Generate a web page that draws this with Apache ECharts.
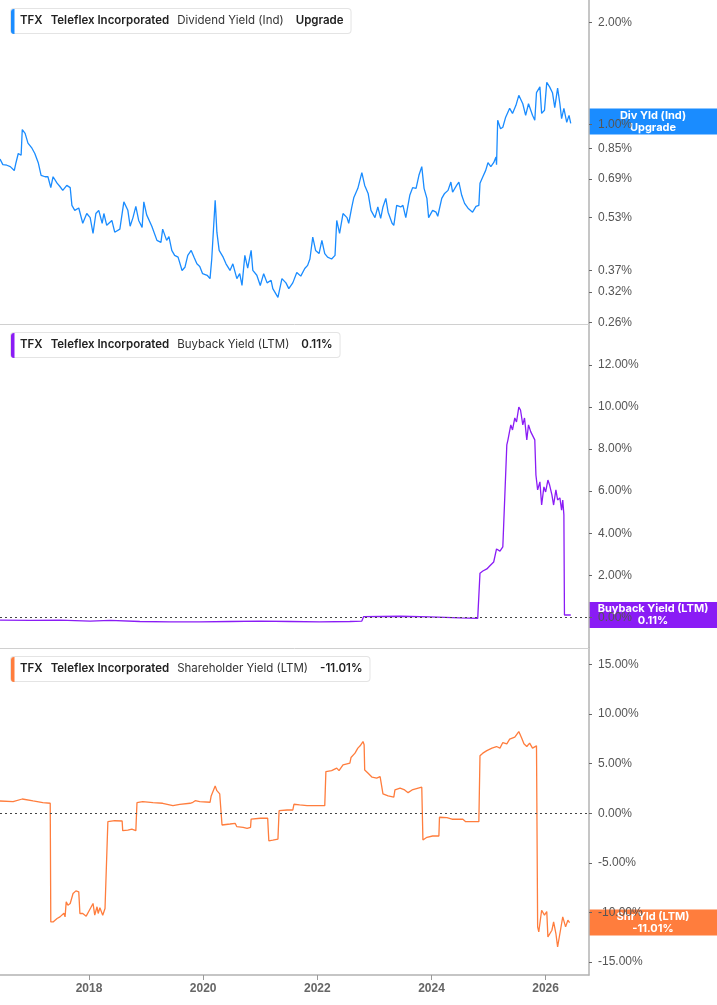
<!DOCTYPE html>
<html>
<head>
<meta charset="utf-8">
<title>TFX - Teleflex Incorporated yields</title>
<script src="https://cdn.jsdelivr.net/npm/echarts@6/dist/echarts.min.js"></script>
<style>
  html, body { margin: 0; padding: 0; background: #fff; }
  #chart { width: 717px; height: 1005px; }
</style>
</head>
<body>
<div id="chart"></div>
<script>
// ---- data (x = decimal year, y = %) ----
const divYears = [2016.44,2016.49,2016.56,2016.62,2016.69,2016.72,2016.76,2016.81,2016.83,2016.88,2016.93,2017.00,2017.05,2017.11,2017.16,2017.23,2017.28,2017.33,2017.37,2017.44,2017.49,2017.54,2017.61,2017.67,2017.70,2017.75,2017.82,2017.89,2017.96,2018.02,2018.07,2018.12,2018.17,2018.23,2018.26,2018.31,2018.40,2018.45,2018.54,2018.61,2018.68,2018.72,2018.77,2018.82,2018.87,2018.93,2018.96,2019.01,2019.10,2019.19,2019.26,2019.29,2019.36,2019.40,2019.45,2019.50,2019.56,2019.63,2019.68,2019.73,2019.79,2019.84,2019.89,2019.94,2019.99,2020.07,2020.12,2020.15,2020.21,2020.22,2020.24,2020.28,2020.35,2020.40,2020.47,2020.52,2020.59,2020.64,2020.68,2020.73,2020.78,2020.84,2020.87,2020.94,2021.00,2021.06,2021.12,2021.19,2021.22,2021.31,2021.38,2021.45,2021.50,2021.57,2021.64,2021.71,2021.78,2021.83,2021.87,2021.92,2021.97,2022.03,2022.08,2022.13,2022.18,2022.25,2022.31,2022.34,2022.39,2022.45,2022.52,2022.55,2022.60,2022.64,2022.71,2022.78,2022.83,2022.89,2022.94,2023.01,2023.06,2023.11,2023.15,2023.20,2023.24,2023.31,2023.34,2023.39,2023.46,2023.50,2023.55,2023.62,2023.67,2023.73,2023.78,2023.83,2023.87,2023.92,2023.95,2024.02,2024.08,2024.11,2024.18,2024.23,2024.29,2024.34,2024.37,2024.44,2024.48,2024.53,2024.58,2024.64,2024.72,2024.78,2024.83,2024.85,2024.90,2024.95,2024.99,2025.04,2025.09,2025.13,2025.14,2025.16,2025.21,2025.25,2025.30,2025.37,2025.42,2025.48,2025.53,2025.60,2025.65,2025.70,2025.77,2025.81,2025.84,2025.90,2025.93,2025.98,2026.02,2026.07,2026.12,2026.16,2026.21,2026.25,2026.28,2026.32,2026.37,2026.41,2026.44]
const divYield = [0.79,0.76,0.757,0.75,0.73,0.77,0.82,0.81,0.965,0.94,0.88,0.85,0.82,0.77,0.707,0.70,0.70,0.65,0.70,0.67,0.655,0.638,0.66,0.65,0.576,0.557,0.566,0.51,0.545,0.53,0.476,0.545,0.557,0.51,0.545,0.503,0.52,0.48,0.49,0.59,0.557,0.50,0.53,0.572,0.52,0.496,0.59,0.54,0.50,0.454,0.448,0.49,0.454,0.466,0.424,0.41,0.405,0.37,0.378,0.41,0.424,0.405,0.387,0.38,0.362,0.358,0.35,0.40,0.596,0.557,0.48,0.424,0.405,0.387,0.37,0.387,0.35,0.362,0.334,0.41,0.376,0.424,0.37,0.358,0.334,0.362,0.34,0.346,0.327,0.308,0.35,0.34,0.327,0.34,0.365,0.356,0.375,0.383,0.40,0.464,0.424,0.415,0.454,0.415,0.405,0.40,0.41,0.52,0.476,0.545,0.53,0.51,0.565,0.608,0.647,0.72,0.66,0.625,0.557,0.53,0.57,0.527,0.57,0.604,0.55,0.51,0.503,0.576,0.57,0.576,0.53,0.617,0.65,0.647,0.707,0.75,0.647,0.604,0.53,0.557,0.55,0.535,0.604,0.625,0.638,0.675,0.63,0.66,0.675,0.617,0.584,0.565,0.55,0.572,0.576,0.67,0.70,0.731,0.77,0.75,0.77,0.80,0.76,1.028,0.97,0.98,1.05,1.115,1.077,1.138,1.218,1.15,1.063,1.15,1.063,1.028,1.24,1.29,1.077,1.10,1.33,1.29,1.24,1.12,1.28,1.15,1.04,1.115,1.014,1.063,1.007]

const bbYears = [2016.44,2016.97,2017.49,2018.02,2018.37,2018.89,2019.42,2019.94,2020.47,2021.00,2021.52,2022.04,2022.57,2022.78,2022.81,2023.45,2023.97,2024.50,2024.81,2024.85,2024.90,2024.97,2025.02,2025.09,2025.14,2025.20,2025.25,2025.28,2025.32,2025.34,2025.39,2025.42,2025.46,2025.49,2025.53,2025.56,2025.60,2025.63,2025.67,2025.70,2025.74,2025.77,2025.81,2025.83,2025.86,2025.90,2025.93,2025.97,2026.00,2026.04,2026.07,2026.11,2026.14,2026.18,2026.21,2026.25,2026.28,2026.30,2026.32,2026.33,2026.44]
const bbYield = [-0.13,-0.15,-0.13,-0.18,-0.15,-0.2,-0.22,-0.22,-0.2,-0.18,-0.2,-0.22,-0.2,-0.18,0.03,0.05,0.02,-0.03,-0.05,2.1,2.2,2.3,2.44,2.63,3.25,3.15,3.35,3.39,8.2,8.44,9.15,8.91,9.48,9.29,10.0,9.86,9.15,9.48,8.44,9.15,8.82,8.91,8.44,6.77,6.06,6.44,5.34,6.2,5.96,6.53,6.29,5.82,5.34,6.06,5.58,5.68,5.1,5.58,4.87,0.11,0.11]

const shYears = [2016.44,2016.67,2016.83,2017.02,2017.19,2017.32,2017.33,2017.37,2017.44,2017.49,2017.56,2017.58,2017.60,2017.63,2017.67,2017.72,2017.77,2017.82,2017.84,2017.89,2017.95,2017.98,2018.03,2018.07,2018.10,2018.14,2018.16,2018.19,2018.24,2018.28,2018.31,2018.33,2018.45,2018.58,2018.59,2018.68,2018.75,2018.82,2018.84,2018.94,2019.12,2019.29,2019.47,2019.59,2019.77,2019.82,2019.86,2019.94,2020.12,2020.14,2020.17,2020.21,2020.24,2020.29,2020.33,2020.47,2020.56,2020.59,2020.70,2020.77,2020.83,2020.84,2021.00,2021.13,2021.15,2021.22,2021.31,2021.33,2021.47,2021.57,2021.59,2021.69,2021.82,2021.92,2022.13,2022.15,2022.25,2022.34,2022.38,2022.45,2022.52,2022.57,2022.59,2022.62,2022.66,2022.71,2022.75,2022.80,2022.82,2022.83,2022.89,2022.96,2023.04,2023.10,2023.13,2023.15,2023.24,2023.34,2023.36,2023.45,2023.53,2023.59,2023.66,2023.83,2023.85,2023.92,2024.02,2024.13,2024.14,2024.27,2024.36,2024.55,2024.60,2024.83,2024.85,2024.90,2024.97,2025.06,2025.14,2025.20,2025.25,2025.32,2025.37,2025.46,2025.53,2025.58,2025.62,2025.67,2025.72,2025.77,2025.84,2025.86,2025.88,2025.93,2025.98,2026.02,2026.04,2026.11,2026.14,2026.18,2026.21,2026.26,2026.30,2026.35,2026.39,2026.42]
const shYield = [1.24,1.17,1.44,1.24,1.07,1.01,-10.95,-10.95,-10.6,-10.44,-10.07,-10.44,-8.93,-9.26,-9.09,-8.08,-7.82,-7.92,-10.1,-10.1,-10.37,-10.27,-9.52,-9.09,-10.27,-9.42,-10.1,-9.52,-10.27,-9.6,-9.42,-0.85,-0.75,-0.78,-1.75,-1.69,-1.59,-1.75,1.07,1.17,1.07,1.01,0.77,0.9,1.01,1.11,1.27,1.17,1.11,1.75,1.85,2.76,2.28,1.95,-1.18,-1.08,-1.01,-1.35,-1.41,-1.52,-1.41,-0.58,-0.5,-0.5,-2.77,-2.7,-2.6,0.26,0.33,0.33,0.91,0.84,0.77,0.77,0.77,4.2,4.3,4.55,4.3,4.88,4.98,5.05,5.62,5.46,6.06,6.57,6.8,7.23,6.9,4.37,4.04,3.64,3.54,3.7,3.54,1.95,1.75,1.62,2.35,2.53,2.35,2.08,2.35,2.63,-2.7,-2.42,-2.29,-2.29,-0.4,-0.44,-0.6,-0.6,-0.85,-0.85,5.79,6.06,6.32,6.57,6.73,6.57,7.13,7.0,7.47,7.68,8.24,7.58,7.0,6.73,7.07,6.57,6.8,-11.45,-11.96,-9.77,-10.27,-9.9,-12.46,-11.79,-10.95,-12.12,-13.47,-11.79,-10.44,-11.45,-10.78,-11.01]

// tick labels
const yearTicks = [2018, 2020, 2022, 2024, 2026]
const divTicks = [0.26, 0.32, 0.37, 0.53, 0.69, 0.85, 1.00, 2.00]
const bbTicks = [0, 2, 4, 6, 8, 10, 12]
const shTicks = [-15, -10, -5, 0, 5, 10, 15]

// legend / badge text
const ticker = 'TFX'
const company = 'Teleflex Incorporated'
const legends = [
  { metric: 'Dividend Yield (Ind)', value: 'Upgrade' },
  { metric: 'Buyback Yield (LTM)', value: '0.11%' },
  { metric: 'Shareholder Yield (LTM)', value: '-11.01%' }
]
const badges = [
  ['Div Yld (Ind)', 'Upgrade'],
  ['Buyback Yield (LTM)', '0.11%'],
  ['Shr Yld (LTM)', '-11.01%']
]
const badgeValues = [1.02, 0.11, -11.01]

// ---- layout / style ----
const colors = ['#1a8cff', '#8a1cf5', '#ff7d3d']
const AXIS_X = 589
const CHART_W = 717
const panels = [
  { top: 0, height: 324 },
  { top: 324, height: 324 },
  { top: 648, height: 327 }
]
const X_MIN = 2016.44
const X_MAX = 2026.76
const labelFont = '"Liberation Sans", Arial, sans-serif'
const legendFont = 'Inter, "Noto Sans", sans-serif'

const pairs = (xs, ys) => xs.map((x, i) => [x, ys[i]])
const pct = v => v.toFixed(2) + '%'

const chart = echarts.init(document.getElementById('chart'))

const makeYAxis = (i, extra) => Object.assign({
  gridIndex: i,
  position: 'right',
  axisLine: { show: true, lineStyle: { color: '#b3b3b3', width: 1.5 } },
  splitLine: { show: false }
}, extra)

const makeXAxis = (i, last) => ({
  type: 'value',
  gridIndex: i,
  min: X_MIN,
  max: X_MAX,
  axisLine: { show: true, onZero: false, lineStyle: { color: last ? '#b3b3b3' : '#d0d0d0', width: last ? 1.5 : 1 } },
  axisTick: last ? { show: true, length: 5, customValues: yearTicks, lineStyle: { color: '#999' } } : { show: false },
  axisLabel: last ? {
    show: true, customValues: yearTicks, formatter: v => String(v),
    color: '#666', fontWeight: 'bold', fontSize: 12, fontFamily: labelFont, margin: 8
  } : { show: false },
  splitLine: { show: false }
})

const yLabel = ticks => ({ color: '#555', fontSize: 12, fontFamily: labelFont, margin: 9, formatter: pct, customValues: ticks })
const yTick = ticks => ({ show: true, length: 3, customValues: ticks, lineStyle: { color: '#666' } })

const zeroLine = {
  silent: true,
  symbol: 'none',
  label: { show: false },
  lineStyle: { type: [2, 3], color: '#444', width: 1 },
  data: [{ yAxis: 0 }]
}

const lineSeries = (i, data, withZero) => ({
  type: 'line',
  xAxisIndex: i,
  yAxisIndex: i,
  data,
  showSymbol: false,
  symbol: 'none',
  lineStyle: { color: colors[i], width: 1.3 },
  itemStyle: { color: colors[i] },
  markLine: withZero ? zeroLine : undefined,
  z: 3
})

// legend boxes top-left of each panel
const legendGraphics = legends.map((lg, i) => ({
  type: 'group',
  left: 10,
  top: panels[i].top + 8,
  children: [
    {
      type: 'text',
      x: 0, y: 0,
      style: {
        text: `{b|${ticker}}{g|}{b|${company}}{g|}{n|${lg.metric}}{g2|}{b|${lg.value}}`,
        backgroundColor: '#fff',
        borderColor: '#e4e4e4',
        borderWidth: 1,
        borderRadius: 3,
        padding: [6, 7, 6, 9],
        font: `11.5px ${legendFont}`,
        rich: {
          b: { fontFamily: legendFont, fontSize: 11.5, fontWeight: 600, fill: '#222', color: '#222' },
          n: { fontFamily: legendFont, fontSize: 11.5, fontWeight: 400, fill: '#333', color: '#333' },
          g: { width: 8 },
          g2: { width: 12 }
        }
      }
    },
    {
      type: 'rect',
      shape: { x: 0, y: 0, width: 3.5, height: 25, r: [3, 0, 0, 3] },
      style: { fill: colors[i] }
    }
  ]
}))

chart.setOption({
  animation: false,
  backgroundColor: '#fff',
  grid: panels.map(p => ({ left: 0, right: CHART_W - AXIS_X, top: p.top, height: p.height, containLabel: false })),
  xAxis: [makeXAxis(0, false), makeXAxis(1, false), makeXAxis(2, true)],
  yAxis: [
    makeYAxis(0, { type: 'log', logBase: 10, min: 0.257, max: 2.33, axisLabel: yLabel(divTicks), axisTick: yTick(divTicks) }),
    makeYAxis(1, { type: 'value', min: -1.46, max: 13.95, axisLabel: yLabel(bbTicks), axisTick: yTick(bbTicks) }),
    makeYAxis(2, { type: 'value', min: -16.3, max: 16.66, axisLabel: yLabel(shTicks), axisTick: yTick(shTicks) })
  ],
  series: [
    lineSeries(0, pairs(divYears, divYield), false),
    lineSeries(1, pairs(bbYears, bbYield), true),
    lineSeries(2, pairs(shYears, shYield), true)
  ],
  graphic: legendGraphics
})

// value badges on the right axis, placed with the axis scale
const badgeGraphics = badges.map((b, i) => {
  const cy = chart.convertToPixel({ yAxisIndex: i }, badgeValues[i])
  return {
    type: 'group',
    x: AXIS_X,
    y: cy - 13,
    z: 100,
    children: [
      { type: 'rect', shape: { x: 0, y: 0, width: CHART_W - AXIS_X, height: 26 }, style: { fill: colors[i] } },
      {
        type: 'text',
        x: (CHART_W - AXIS_X) / 2, y: 13,
        style: {
          text: b[0] + '\n' + b[1],
          fill: '#fff',
          font: `bold 11px ${legendFont}`,
          lineHeight: 12,
          align: 'center',
          verticalAlign: 'middle'
        }
      }
    ]
  }
})

chart.setOption({ graphic: legendGraphics.concat(badgeGraphics) })
</script>
</body>
</html>
